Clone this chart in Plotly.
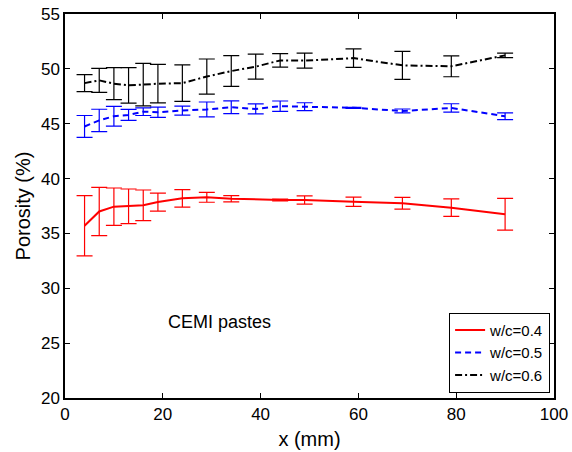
import plotly.graph_objects as go

x_red = [4, 7, 10, 13, 16, 19, 24, 29, 34, 44, 49, 59, 69, 79, 90]
y_red = [35.7, 37.0, 37.44, 37.47, 37.56, 37.86, 38.2, 38.29, 38.16, 38.05, 38.05, 37.89, 37.75, 37.35, 36.75]
e_red = [2.75, 2.2, 1.7, 1.58, 1.4, 0.82, 0.8, 0.45, 0.28, 0.08, 0.38, 0.42, 0.53, 0.8, 1.45]

x_blue = [4, 7, 10, 13, 16, 19, 24, 29, 34, 39, 44, 49, 59, 69, 79, 90]
y_blue = [44.75, 45.3, 45.68, 45.8, 46.1, 46.05, 46.2, 46.3, 46.5, 46.35, 46.6, 46.55, 46.45, 46.16, 46.44, 45.68]
e_blue = [1.0, 1.02, 0.9, 0.5, 0.35, 0.47, 0.41, 0.68, 0.58, 0.45, 0.47, 0.36, 0.05, 0.18, 0.38, 0.3]

x_black = [4, 7, 10, 13, 16, 19, 24, 29, 34, 39, 44, 49, 59, 69, 79, 90]
y_black = [48.7, 48.95, 48.65, 48.5, 48.56, 48.65, 48.7, 49.3, 49.8, 50.2, 50.77, 50.75, 50.98, 50.32, 50.23, 51.23]
e_black = [0.78, 1.09, 1.46, 1.62, 1.94, 1.75, 1.67, 1.6, 1.4, 1.14, 0.61, 0.68, 0.84, 1.28, 0.95, 0.2]

names = ["w/c=0.4", "w/c=0.5", "w/c=0.6"]
x_ticks = [0, 20, 40, 60, 80, 100]
y_ticks = [20, 25, 30, 35, 40, 45, 50, 55]

FONT = "Liberation Sans, Arial, sans-serif"

fig = go.Figure()
series = [
    (x_red, y_red, e_red, "red", "solid"),
    (x_blue, y_blue, e_blue, "blue", "6px,4px"),
    (x_black, y_black, e_black, "black", "7px,3px,2px,3px"),
]
for (xs, ys, es, col, dash), nm in zip(series, names):
    fig.add_trace(go.Scatter(
        x=xs, y=ys, mode="lines", name=nm,
        line=dict(color=col, width=2, dash=dash),
        error_y=dict(type="data", array=es, visible=True, color=col, thickness=1.2, width=8),
    ))

fig.add_annotation(x=31.6, y=26.9, xref="x", yref="y", text="CEMI pastes", showarrow=False,
                   font=dict(family=FONT, size=18, color="black"))

axis_common = dict(showline=True, linecolor="black", linewidth=1.5, mirror="ticks",
                   ticks="inside", ticklen=5, tickcolor="black", tickwidth=1,
                   showgrid=False, zeroline=False, automargin=False,
                   tickfont=dict(family=FONT, size=17, color="black"))

fig.update_layout(
    width=572, height=452,
    margin=dict(l=65, r=18, t=13.5, b=53.5),
    plot_bgcolor="white", paper_bgcolor="white",
    xaxis=dict(range=[0, 100], tickvals=x_ticks,
               title=dict(text="x (mm)", font=dict(family=FONT, size=20, color="black"), standoff=9),
               **axis_common),
    yaxis=dict(range=[20, 55], tickvals=y_ticks,
               title=dict(text="Porosity (%)", font=dict(family=FONT, size=20, color="black"), standoff=5),
               **axis_common),
    legend=dict(x=0.992, y=0.0135, xanchor="right", yanchor="bottom",
                bordercolor="black", borderwidth=1, bgcolor="white",
                font=dict(family=FONT, size=15, color="black"),
                tracegroupgap=0),
    showlegend=True,
)

fig.write_html("out.html", config={"displayModeBar": False},
               post_script="document.body.style.margin='0';document.body.style.padding='0';")
